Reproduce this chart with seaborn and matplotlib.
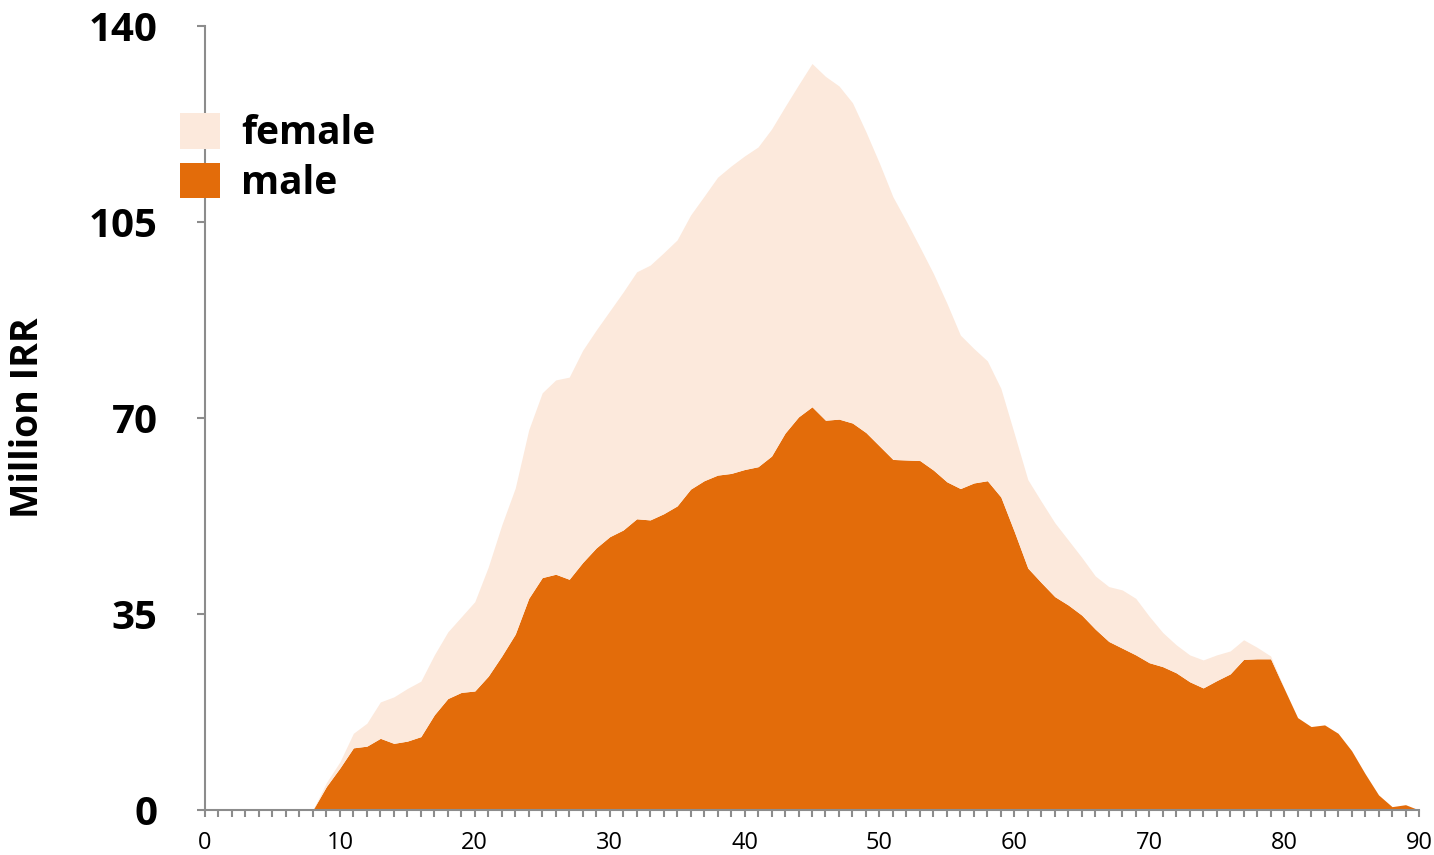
import numpy as np
import pandas as pd
import seaborn as sns
import matplotlib
matplotlib.use("Agg")
import matplotlib.pyplot as plt
from matplotlib.patches import Patch
from matplotlib.ticker import MultipleLocator

# ---- data (Million IRR by age) ----
ages = list(range(0, 91))
male = [0, 0, 0, 0, 0, 0, 0, 0, 0,
        4.2, 7.5, 11.1, 11.4, 12.8, 11.9, 12.3, 13.1, 17.0, 19.9, 21.0,
        21.25, 23.9, 27.5, 31.4, 37.8, 41.5, 42.1, 41.2, 44.2, 46.8,
        48.8, 50.0, 52.0, 51.8, 52.9, 54.3, 57.3, 58.8, 59.8, 60.1,
        60.8, 61.3, 63.2, 67.3, 70.2, 72.0, 69.6, 69.8, 69.1, 67.4,
        65.0, 62.6, 62.5, 62.4, 60.7, 58.6, 57.4, 58.4, 58.8, 55.9,
        49.7, 43.2, 40.6, 38.1, 36.6, 34.8, 32.3, 30.1, 28.9, 27.7,
        26.3, 25.6, 24.5, 22.9, 21.8, 23.1, 24.3, 26.9, 27.0, 27.0,
        21.7, 16.5, 14.9, 15.2, 13.7, 10.6, 6.5, 2.7, 0.6, 0.95, 0]
female = [0, 0, 0, 0, 0, 0, 0, 0, 0,
          0.7, 1.1, 2.6, 4.1, 6.5, 8.3, 9.4, 9.9, 10.7, 11.9, 13.5,
          15.95, 19.5, 23.4, 26.1, 30.1, 33.0, 34.7, 36.1, 37.9, 38.9,
          40.3, 42.5, 44.1, 45.5, 46.6, 47.5, 48.95, 50.8, 53.2, 54.9,
          56.0, 57.1, 58.4, 58.3, 59.3, 61.3, 61.4, 59.5, 57.2, 53.7,
          50.5, 46.9, 42.6, 38.1, 35.1, 31.9, 27.4, 24.0, 21.4, 19.4,
          17.5, 15.8, 14.5, 13.2, 11.6, 10.3, 9.5, 9.8, 10.4, 10.1,
          8.3, 6.1, 5.0, 4.8, 5.0, 4.6, 4.1, 3.5, 2.05, 0.5,
          0, 0, 0, 0, 0, 0, 0, 0, 0, 0, 0]
series_names = ["female", "male"]
colors = {"female": "#FCE9DC", "male": "#E36C0A"}
yticks = [0, 35, 70, 105, 140]
xticks = list(range(0, 91, 10))

df = pd.DataFrame({
    "age": ages * 2,
    "value": female + male,
    "sex": ["female"] * len(ages) + ["male"] * len(ages),
})

sns.set_theme(style="white")
plt.rcParams["font.family"] = ["Open Sans", "DejaVu Sans"]
plt.rcParams["text.color"] = "black"
plt.rcParams["axes.labelcolor"] = "black"
plt.rcParams["xtick.labelcolor"] = "black"
plt.rcParams["ytick.labelcolor"] = "black"

fig = plt.figure(figsize=(14.34, 8.55), dpi=100)
ax = fig.add_axes([205 / 1434, 45 / 855, 1214 / 1434, 784 / 855])

sns.histplot(data=df, x="age", weights="value", hue="sex",
             hue_order=series_names, palette=colors, multiple="stack",
             element="poly", discrete=True, alpha=1, linewidth=0,
             legend=False, ax=ax)

ax.set_xlim(0, 90)
ax.set_ylim(0, 140)
ax.set_yticks(yticks)
ax.set_xticks(xticks)
ax.xaxis.set_minor_locator(MultipleLocator(1))
ax.set_xlabel("")
ax.set_ylabel("Million IRR", fontsize=27, fontweight="bold", labelpad=30,
              color="black")

for s in ["top", "right"]:
    ax.spines[s].set_visible(False)
for s in ["left", "bottom"]:
    ax.spines[s].set_color("#8C8C8C")
    ax.spines[s].set_linewidth(1.5)

ax.tick_params(axis="y", which="major", direction="out", length=6, width=1.5,
               color="#8C8C8C", labelsize=29, pad=28, left=True,
               labelcolor="black")
for lab in ax.get_yticklabels():
    lab.set_fontweight("bold")
ax.tick_params(axis="x", which="both", direction="out", length=5, width=1.5,
               color="#8C8C8C", bottom=True)
ax.tick_params(axis="x", which="major", labelsize=17, pad=10,
               labelcolor="black")

handles = [Patch(facecolor=colors[n], edgecolor="none") for n in series_names]
leg = fig.legend(handles, series_names, loc="upper left",
                 bbox_to_anchor=(180 / 1434, 1 - 113 / 855), frameon=False,
                 prop={"size": 28, "weight": "bold"}, handlelength=1.03,
                 handleheight=1.03, handletextpad=0.55, labelspacing=0.25,
                 borderpad=0, borderaxespad=0)
for t in leg.get_texts():
    t.set_color("black")

fig.savefig("out.png", dpi=100)
